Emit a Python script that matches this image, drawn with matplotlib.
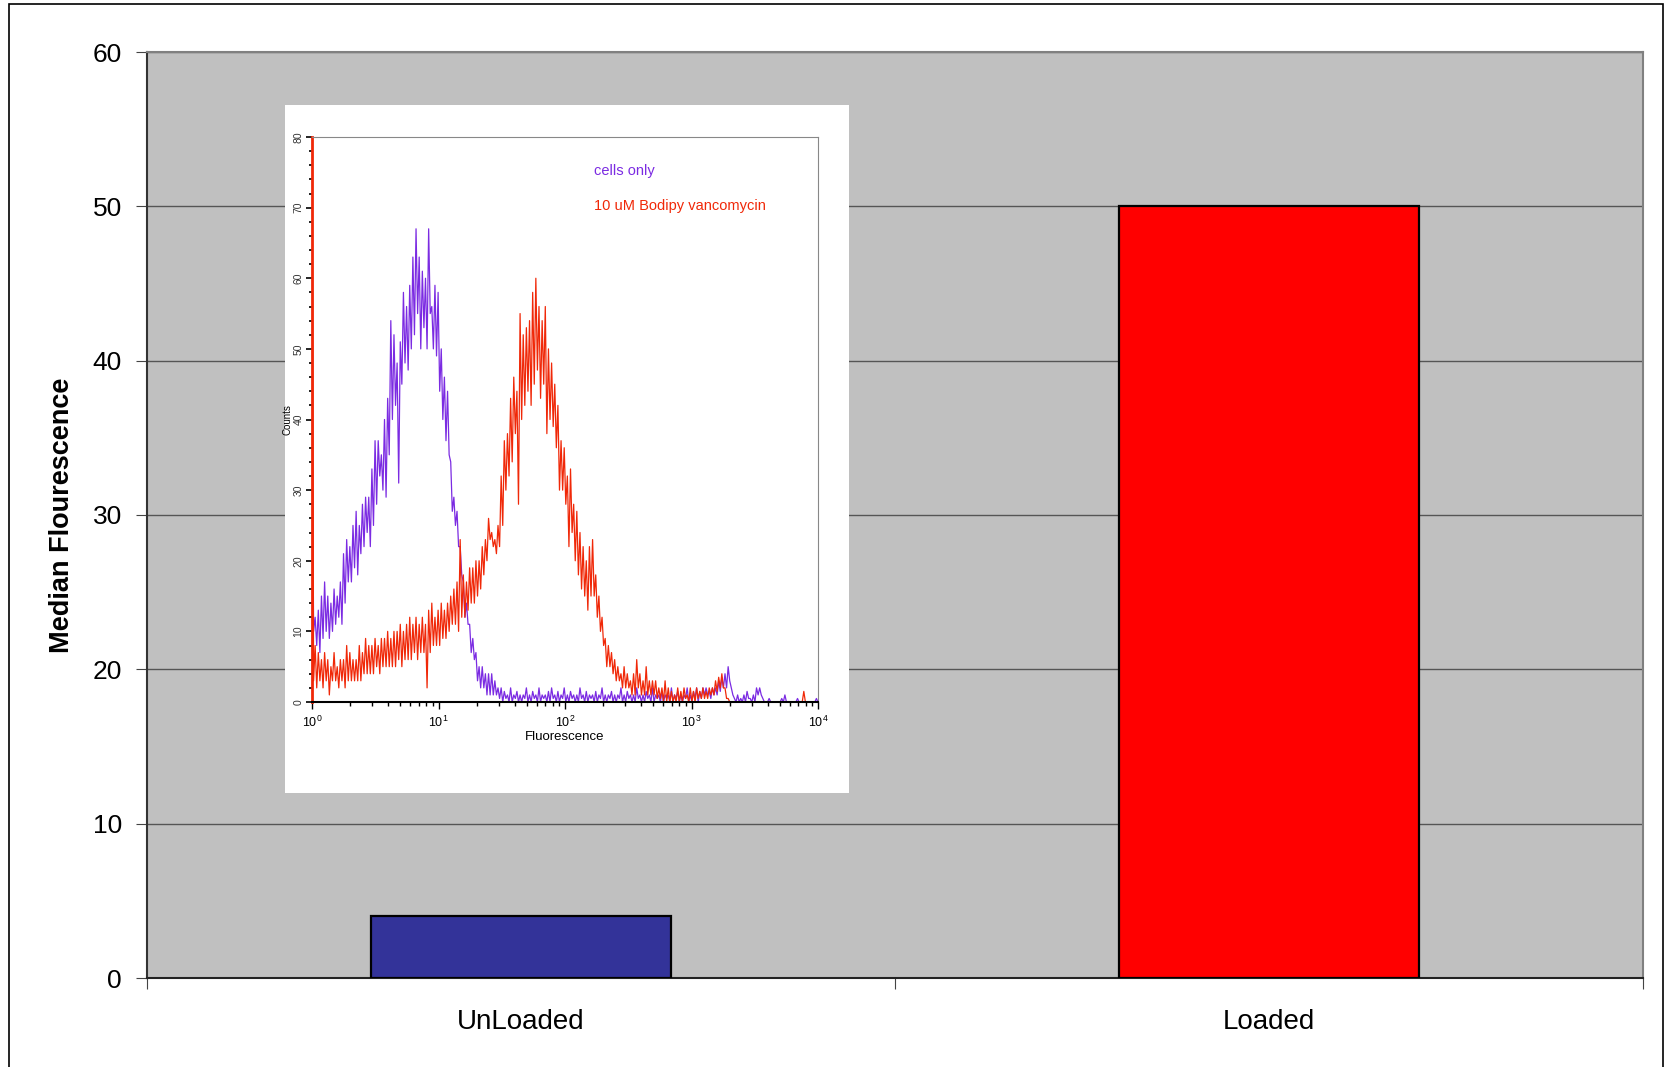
import numpy as np
import matplotlib.pyplot as plt
from matplotlib.patches import Rectangle
from matplotlib.ticker import MultipleLocator, LogLocator, NullFormatter

plt.rcParams['font.family'] = ['Liberation Sans', 'DejaVu Sans']

# Main bar chart data
categories = ['UnLoaded', 'Loaded']
median_fluor = [4, 50]
bar_colors = ['#333399', '#FF0000']

# Inset flow-cytometry histograms, read every 0.025 decade (upper / lower envelope)
cells_hi = [50, 12, 13, 15, 17, 15, 14, 16, 15, 17, 21, 23, 22, 25, 27, 25, 28, 29, 29, 33,
            37, 37, 35, 40, 43, 54, 52, 48, 51, 58, 56, 59, 63, 67, 63, 61, 60, 67, 56, 59,
            58, 50, 46, 44, 34, 29, 27, 22, 17, 14, 11, 9, 7, 5, 5, 4, 4, 4, 3, 2,
            2, 1.5, 1, 2, 1, 1.5, 1, 1, 2, 1, 1.5, 1, 2, 1, 1, 1.5, 2, 1, 1.5, 1,
            2, 1, 1.5, 1, 1, 2, 1, 1.5, 1, 1, 1.5, 1, 2, 1, 1, 1.5, 1, 1, 2, 1,
            1.5, 1, 1, 2, 1, 1, 1.5, 1, 2, 1, 1, 1.5, 1, 1, 2, 1, 1.5, 1, 1, 2,
            1, 1.5, 2, 1.5, 2, 2, 1.5, 2, 2, 3, 3.5, 4, 5, 2, 0.5, 1, 0.5, 1, 1.5, 0.5,
            1, 2, 2, 0.5, 0, 0.5, 0, 0, 0, 0.5, 1, 0, 0, 0, 0.5, 0, 0, 0, 0, 0, 0.5]
cells_lo = [10, 8, 7, 9, 10, 9, 10, 11, 12, 11, 14, 17, 17, 19, 18, 21, 22, 24, 22, 25,
            28, 32, 30, 29, 35, 40, 42, 31, 45, 48, 47, 50, 52, 55, 50, 53, 50, 55, 50, 49,
            44, 40, 37, 35, 27, 25, 22, 18, 12, 11, 7, 6, 3, 2, 2, 1, 1, 1, 1, 0.5,
            0, 0.5, 0, 0, 0.5, 0, 0, 0.5, 0, 0, 0.5, 0, 0, 0.5, 0, 0, 0.5, 0, 0, 0.5,
            0, 0, 0.5, 0, 0, 0.5, 0, 0, 0.5, 0, 0, 0.5, 0, 0, 0.5, 0, 0, 0.5, 0, 0,
            0.5, 0, 0, 0.5, 0, 0, 0.5, 0, 0, 0.5, 0, 0, 0.5, 0, 0, 0.5, 0, 0, 0.5, 0,
            0, 0.5, 0, 0.5, 1, 1, 0.5, 1, 1, 1.5, 2, 2, 3, 1, 0, 0, 0, 0, 0.5, 0,
            0, 1, 1, 0, 0, 0, 0, 0, 0, 0, 0, 0, 0, 0, 0, 0, 0, 0, 0, 0, 0]
vanco_hi = [85, 8, 7, 6, 7, 6, 5, 7, 5, 6, 6, 8, 7, 6, 6, 8, 7, 9, 8, 8,
            9, 8, 9, 9, 10, 9, 10, 10, 11, 10, 11, 12, 11, 12, 11, 12, 11, 13, 14, 12,
            13, 14, 13, 14, 15, 16, 17, 23, 18, 17, 19, 19, 20, 20, 22, 23, 26, 24, 23, 25,
            32, 37, 38, 43, 46, 44, 55, 52, 53, 54, 58, 60, 56, 54, 56, 50, 48, 45, 42, 37,
            36, 32, 33, 28, 27, 24, 22, 20, 22, 23, 18, 15, 12, 9, 8, 7, 6, 5, 4, 5,
            4, 3, 4, 6, 4, 3, 5, 3, 3, 3, 2, 2, 3, 2, 1.5, 1, 2, 1.5, 2, 1,
            2, 1.5, 2, 1.5, 2, 1.5, 2, 2, 3, 3.5, 4, 2, 0.5, 0, 0, 0, 0, 0, 0, 0,
            0, 0, 0, 0, 0, 0, 0, 0, 0, 0, 0, 0, 0, 0, 0, 0, 1.5, 0, 0, 0, 0]
vanco_lo = [3, 2, 3, 2, 3, 1, 3, 3, 2, 3, 2, 3, 3, 3, 3, 3, 4, 4, 4, 4,
            5, 4, 5, 5, 5, 5, 5, 6, 5, 6, 6, 6, 7, 6, 7, 7, 2, 7, 8, 8,
            8, 9, 9, 10, 11, 11, 10, 12, 12, 13, 14, 14, 15, 16, 18, 20, 23, 22, 21, 22,
            25, 30, 32, 34, 38, 28, 40, 42, 44, 42, 45, 47, 43, 45, 38, 40, 39, 36, 30, 30,
            28, 22, 24, 20, 18, 16, 15, 13, 15, 15, 12, 10, 8, 5, 5, 4, 3, 3, 2, 2,
            2, 1, 1, 2, 1, 1, 1, 1, 1, 0.5, 0.5, 0, 0, 0, 0, 0, 0, 0, 0.5, 0,
            0, 0, 0.5, 0.5, 0.5, 0.5, 1, 1, 1.5, 2, 2, 0.5, 0, 0, 0, 0, 0, 0, 0, 0,
            0, 0, 0, 0, 0, 0, 0, 0, 0, 0, 0, 0, 0, 0, 0, 0, 0, 0, 0, 0, 0]

W, H = 1668, 1067
fig = plt.figure(figsize=(W / 100, H / 100), dpi=100)

# outer border of the pasted chart
fig.patches.append(Rectangle((9 / W, -0.05), (1663 - 9) / W, (1067 - 4) / H + 0.05,
                             transform=fig.transFigure, fill=False, ec='black', lw=1.2))

ax = fig.add_axes([147 / W, 1 - 978 / H, (1643 - 147) / W, (978 - 52) / H])
ax.set_facecolor('#C0C0C0')
xpos = np.arange(len(categories))
ax.bar(xpos, median_fluor, width=0.4, color=bar_colors, edgecolor='black', linewidth=1.6, zorder=3)
ax.set_xlim(-0.5, 1.5)
ax.set_ylim(0, 60)
ax.yaxis.set_major_locator(MultipleLocator(10))
ax.grid(axis='y', color='#555555', linewidth=1, zorder=1)
ax.set_axisbelow(True)
ax.set_xticks([-0.5, 0.5, 1.5])
ax.set_xticklabels([])
ax.set_xticks(xpos, minor=True)
ax.set_xticklabels(categories, minor=True, fontsize=20)
ax.tick_params(axis='x', which='major', length=8, color='#444444')
ax.tick_params(axis='x', which='minor', length=0, pad=22)
ax.tick_params(axis='y', length=8, pad=10, labelsize=19, color='#444444')
ax.set_ylabel('Median Flourescence', fontsize=19.5, fontweight='bold')
ax.yaxis.set_label_coords(-0.048, 0.5)
ax.spines['left'].set_color('#333333')
ax.spines['left'].set_linewidth(1.5)
ax.spines['bottom'].set_color('#222222')
ax.spines['bottom'].set_linewidth(1.5)
ax.spines['top'].set_color('#808080')
ax.spines['top'].set_linewidth(1.5)
ax.spines['right'].set_color('#808080')
ax.spines['right'].set_linewidth(1.5)

# inset: white panel with the histogram overlay
bg = fig.add_axes([285 / W, 1 - 793 / H, (849 - 285) / W, (793 - 105) / H])
bg.set_facecolor('white')
bg.set_xticks([])
bg.set_yticks([])
for s in bg.spines.values():
    s.set_visible(False)

ins = fig.add_axes([312 / W, 1 - 702 / H, (818 - 312) / W, (702 - 137) / H])
ins.set_facecolor('white')
n = len(cells_hi)
chan = np.logspace(0, 4, 2 * n)
cells = np.column_stack([cells_hi, cells_lo]).ravel()
vanco = np.column_stack([vanco_hi, vanco_lo]).ravel()
ins.plot(chan, cells, color='#7B2BE2', lw=0.9)
ins.plot(chan, vanco, color='#F02808', lw=0.9)
ins.set_xscale('log')
ins.set_xlim(1, 1e4)
ins.set_ylim(0, 80)
ins.yaxis.set_major_locator(MultipleLocator(10))
ins.yaxis.set_minor_locator(MultipleLocator(2))
ins.xaxis.set_major_locator(LogLocator(base=10, numticks=10))
ins.xaxis.set_minor_locator(LogLocator(base=10, subs=np.arange(2, 10), numticks=10))
ins.xaxis.set_minor_formatter(NullFormatter())
ins.tick_params(axis='y', which='major', length=4, width=1.2, labelsize=7.5, labelrotation=90, pad=2,
                labelcolor='#333333')
ins.tick_params(axis='y', which='minor', length=2.5, width=1.2)
ins.tick_params(axis='x', which='major', length=5, width=1, labelsize=9, pad=4)
ins.tick_params(axis='x', which='minor', length=3, width=1)
for lab in ins.get_yticklabels():
    lab.set_va('center')
ins.set_xlabel('Fluorescence', fontsize=9.5, labelpad=1,
               family=['Liberation Sans Narrow', 'Liberation Sans', 'DejaVu Sans'])
ins.set_ylabel('Counts', fontsize=7, labelpad=0.5)
ins.spines['left'].set_color('#F02808')
ins.spines['left'].set_linewidth(2)
ins.spines['bottom'].set_linewidth(1.5)
ins.spines['top'].set_color('#888888')
ins.spines['right'].set_color('#888888')
ins.text(0.558, 0.94, 'cells only', transform=ins.transAxes, color='#7B2BE2', fontsize=10.5,
         va='center', family=['Liberation Sans Narrow', 'Liberation Sans', 'DejaVu Sans'])
ins.text(0.558, 0.877, '10 uM Bodipy vancomycin', transform=ins.transAxes, color='#F02808',
         fontsize=10.5, va='center', family=['Liberation Sans Narrow', 'Liberation Sans', 'DejaVu Sans'])

fig.savefig('out.png', dpi=100)
